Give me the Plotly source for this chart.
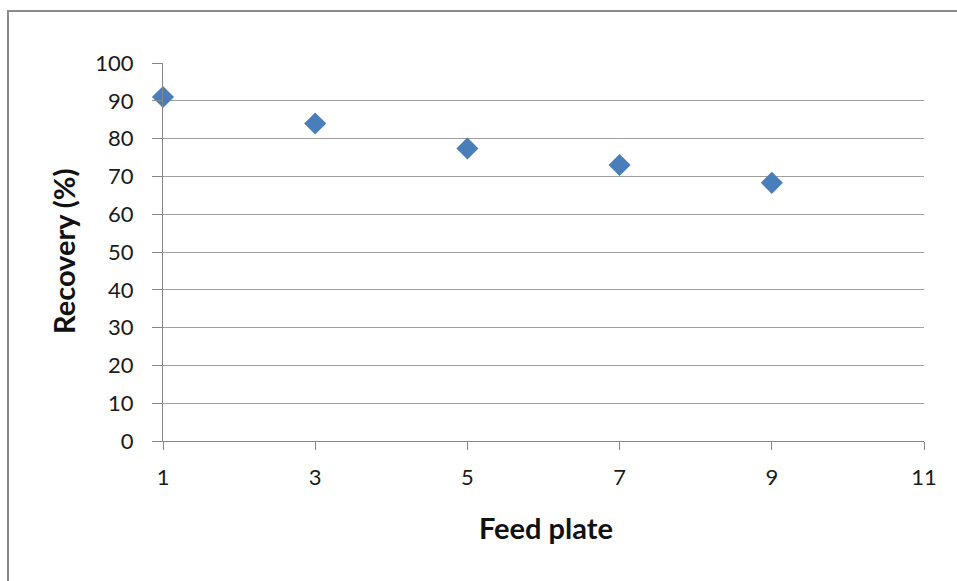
import plotly.graph_objects as go

# Recovery versus feed plate position
feed_plate = [1, 3, 5, 7, 9]
recovery = [91.0, 84.0, 77.4, 73.0, 68.3]

x_ticks = [1, 3, 5, 7, 9, 11]
y_ticks = [0, 10, 20, 30, 40, 50, 60, 70, 80, 90, 100]

W, H = 957, 581
L, R, T, B = 163, 33, 63, 140
pw, ph = W - L - R, H - T - B

font_family = "Lato, 'Open Sans', sans-serif"
axis_grey = "#868686"
grid_grey = "#a0a0a0"

fig = go.Figure()
fig.add_trace(go.Scatter(
    x=feed_plate, y=recovery, mode="markers",
    marker=dict(symbol="diamond", size=17, color="#4a7ebb",
                line=dict(width=0)),
    showlegend=False, cliponaxis=False,
))

fig.update_layout(
    width=W, height=H,
    margin=dict(l=L, r=R, t=T, b=B),
    paper_bgcolor="white", plot_bgcolor="white",
    font=dict(family=font_family, color="#222222", size=22),
    xaxis=dict(
        range=[1, 11], tickvals=x_ticks, showgrid=False, zeroline=False,
        showline=True, linecolor=axis_grey, linewidth=1,
        ticks="outside", ticklen=8, tickcolor=axis_grey, tickwidth=1,
        tickfont=dict(size=22, color="#1a1a1a"), ticklabelstandoff=9,
    ),
    yaxis=dict(
        range=[0, 100], tickvals=y_ticks, showgrid=True, gridcolor=grid_grey,
        gridwidth=1, zeroline=False,
        showline=True, linecolor=axis_grey, linewidth=1,
        ticks="outside", ticklen=10, tickcolor=axis_grey, tickwidth=1,
        tickfont=dict(size=22, color="#1a1a1a"), ticklabelstandoff=14,
    ),
    annotations=[
        dict(text="<b>Feed plate</b>", xref="paper", yref="paper",
             x=(546 - L) / pw, y=-(527 - (T + ph)) / ph,
             xanchor="center", yanchor="middle",
             showarrow=False, font=dict(size=29, color="#111111")),
        dict(text="<b>Recovery (%)</b>", xref="paper", yref="paper",
             x=(63 - L) / pw, y=(T + ph - 251) / ph,
             xanchor="center", yanchor="middle",
             textangle=-90, showarrow=False,
             font=dict(size=29, color="#111111")),
    ],
    shapes=[
        # chart frame, open past the right and bottom edges of the page
        dict(type="rect", xref="paper", yref="paper",
             x0=(8 - L) / pw, x1=(W + 5 - L) / pw,
             y0=-(H + 5 - (T + ph)) / ph, y1=((T + ph) - 11) / ph,
             line=dict(color="#8a8a8a", width=2), layer="below"),
    ],
)

fig.write_html("out.html")
